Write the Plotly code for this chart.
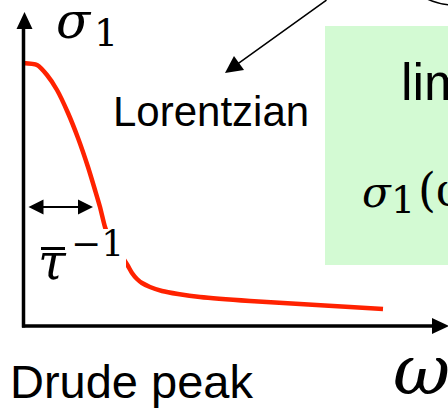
import plotly.graph_objects as go

W, H = 448, 413
X0, Y0 = 23, 326  # pixel position of the origin (omega=0, sigma=0)

# ---- data: Drude peak curve (omega, sigma1), arbitrary units
omega = [0, 14, 24, 34, 45, 55, 65, 72, 77, 82, 87, 94, 100, 105, 109, 114,
         119, 127, 139, 155, 177, 227, 277, 327, 360]
sigma = [263, 261, 251, 236, 213, 188, 159, 136, 119, 99, 86, 76, 68, 60, 53,
         47, 43, 39, 35, 32, 29, 25, 22, 19, 17]

# ---- texts
label_peak = "Drude peak"
label_lor = "Lorentzian"
label_lim = "lim"


def X(px):
    return px - X0


def Y(py):
    return Y0 - py


def path(pts):
    return "M " + " L ".join(f"{X(a)},{Y(b)}" for a, b in pts) + " Z"


fig = go.Figure()
fig.add_trace(go.Scatter(
    x=omega, y=sigma, mode="lines",
    line=dict(color="#ff2200", width=4.5, shape="spline", smoothing=0.6),
    hoverinfo="skip", showlegend=False))

shapes = [
    # green formula box
    dict(type="rect", x0=X(325), x1=X(470), y0=Y(26), y1=Y(265),
         fillcolor="#d3fad3", line=dict(width=0), layer="below"),
    # ellipse fragment at top-right
    dict(type="circle", x0=X(390), x1=X(520), y0=Y(-125), y1=Y(5),
         line=dict(color="black", width=1.5), layer="above"),
    # white background of the tau label (hides curve)
    dict(type="rect", x0=X(27), x1=X(126), y0=Y(229), y1=Y(290),
         fillcolor="white", line=dict(width=0), layer="above"),
    # axes
    dict(type="line", x0=X(23.5), x1=X(23.5), y0=Y(327.5), y1=Y(24),
         line=dict(color="black", width=3.5), layer="above"),
    dict(type="line", x0=X(22), x1=X(436), y0=Y(326), y1=Y(326),
         line=dict(color="black", width=3.5), layer="above"),
    dict(type="path", path=path([(24.5, 12), (32.5, 29), (16.5, 29)]),
         fillcolor="black", line=dict(width=0), layer="above"),
    dict(type="path", path=path([(449, 326), (432, 318), (432, 334)]),
         fillcolor="black", line=dict(width=0), layer="above"),
    # bar over tau
    dict(type="line", x0=X(41), x1=X(65), y0=Y(248.5), y1=Y(248.5),
         line=dict(color="black", width=3), layer="above"),
]

serif = "DejaVu Serif"
sans = "Liberation Sans"
ann = [
    # sigma_1 axis label
    dict(x=X(74), y=Y(21), text="σ", font=dict(family=serif, size=50, color="black", style="italic")),
    dict(x=X(106), y=Y(33), text="1", font=dict(family=serif, size=38, color="black")),
    # Lorentzian
    dict(x=X(111), y=Y(111), text=label_lor, xanchor="left",
         font=dict(family=sans, size=42, color="black")),
    # Drude peak
    dict(x=X(8), y=Y(381), text=label_peak, xanchor="left",
         font=dict(family=sans, size=47, color="black")),
    # omega axis label
    dict(x=X(421), y=Y(370), text="ω", font=dict(family=serif, size=70, color="black", style="italic")),
    # tau^-1
    dict(x=X(52), y=Y(262), text="τ", font=dict(family=serif, size=50, color="black", style="italic")),
    dict(x=X(97), y=Y(243), text="−1", font=dict(family=serif, size=36, color="black")),
    # green box texts
    dict(x=X(399), y=Y(82), text=label_lim, xanchor="left",
         font=dict(family=sans, size=52, color="black")),
    dict(x=X(377), y=Y(192), text="σ", font=dict(family=serif, size=42, color="black", style="italic")),
    dict(x=X(403), y=Y(200), text="1", font=dict(family=serif, size=38, color="black")),
    dict(x=X(416), y=Y(190), text="(ω)", xanchor="left",
         font=dict(family=serif, size=46, color="black")),
]
annotations = [dict(a, showarrow=False, xref="x", yref="y") for a in ann]
# arrows
annotations.append(dict(x=X(93), y=Y(207), ax=X(27), ay=Y(207), axref="x", ayref="y",
                        xref="x", yref="y", text="", showarrow=True,
                        arrowhead=2, startarrowhead=2, arrowside="end+start",
                        arrowsize=1.5, startarrowsize=1.5, arrowwidth=2,
                        arrowcolor="black", standoff=0, startstandoff=0))
annotations.append(dict(x=X(225), y=Y(73), ax=X(328), ay=Y(-1), axref="x", ayref="y",
                        xref="x", yref="y", text="", showarrow=True,
                        arrowhead=2, arrowsize=2.3, arrowwidth=1.5,
                        arrowcolor="black", standoff=0))

fig.update_layout(
    width=W, height=H, margin=dict(l=0, r=0, t=0, b=0),
    paper_bgcolor="white", plot_bgcolor="white",
    xaxis=dict(range=[-X0, W - X0], visible=False, fixedrange=True),
    yaxis=dict(range=[-(H - Y0), Y0], visible=False, fixedrange=True),
    shapes=shapes, annotations=annotations, showlegend=False,
)
fig.write_html("out.html", config={"displayModeBar": False},
               post_script="document.body.style.margin='0';document.body.style.overflow='hidden';")
